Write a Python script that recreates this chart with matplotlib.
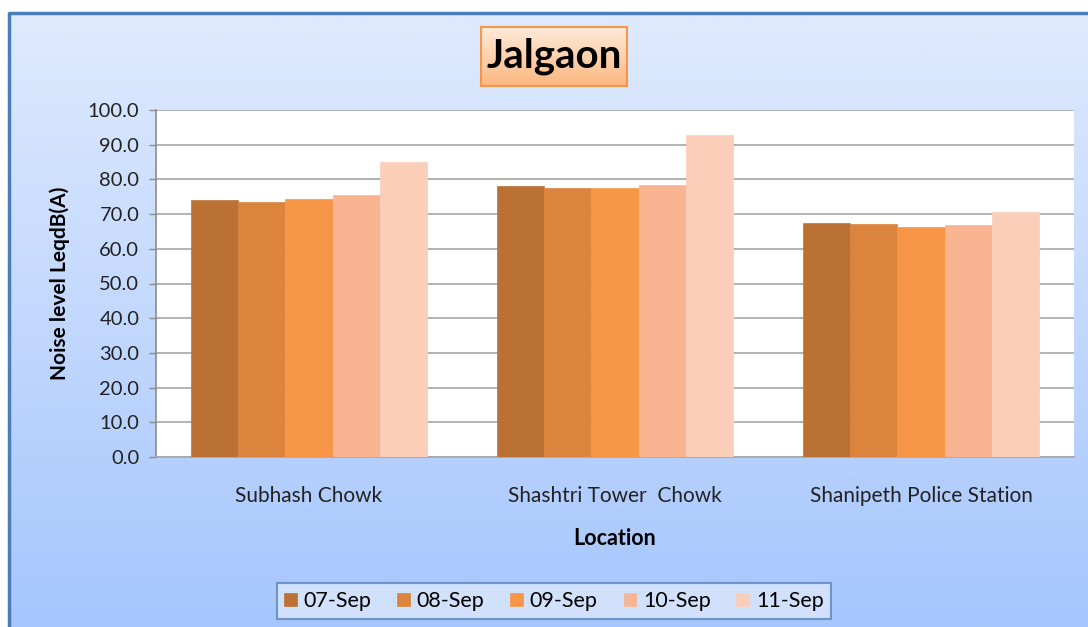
import numpy as np
import matplotlib
matplotlib.use("Agg")
import matplotlib.pyplot as plt
from matplotlib.patches import Rectangle

plt.rcParams['font.family'] = ['Lato', 'DejaVu Sans']

# data
locations = ["Subhash Chowk", "Shashtri Tower  Chowk", "Shanipeth Police Station"]
dates = ["07-Sep", "08-Sep", "09-Sep", "10-Sep", "11-Sep"]
sep07 = [74.0, 78.1, 67.4]
sep08 = [73.6, 77.4, 67.1]
sep09 = [74.3, 77.4, 66.3]
sep10 = [75.5, 78.4, 66.8]
sep11 = [84.9, 92.7, 70.7]
series = [sep07, sep08, sep09, sep10, sep11]
colors = ["#BC7134", "#DB843D", "#F79646", "#F9B591", "#FBCEB9"]

W, H = 1088, 627
fig = plt.figure(figsize=(W / 100, H / 100), dpi=100)

# background gradient + frame
bg = fig.add_axes([0, 0, 1, 1], zorder=-10)
grad = np.linspace(0, 1, 256).reshape(-1, 1)
top_c = np.array([0xE0, 0xEB, 0xFD]) / 255
bot_c = np.array([0xA6, 0xC6, 0xFD]) / 255
img = top_c + (bot_c - top_c) * grad[:, :, None]
img = img.reshape(256, 1, 3)
bg.imshow(img, aspect='auto', extent=[0, W, H, 0])
bg.set_xlim(0, W)
bg.set_ylim(H, 0)
bg.add_patch(Rectangle((0, 0), 8, H, color="white", zorder=2))
bg.add_patch(Rectangle((0, 0), W, 12, color="white", zorder=2))
bg.plot([8.5, 8.5, W + 5], [H + 5, 12.5, 12.5], color="#4A7EBB", lw=2.5, zorder=3)
bg.axis('off')

# main plot area
ax = fig.add_axes([156 / W, 1 - 457 / H, (1074 - 156) / W, (457 - 110) / H])
x = np.arange(len(locations))
bw = 0.1537
for i, (vals, c) in enumerate(zip(series, colors)):
    ax.bar(x + (i - 2) * bw, vals, bw, color=c, label=dates[i], zorder=3,
           edgecolor=c, linewidth=0.5)

ax.set_xlim(-0.5, 2.5)
ax.set_ylim(0, 100)
ax.set_yticks(np.arange(0, 101, 10))
ax.set_yticklabels(["%.1f" % v for v in np.arange(0, 101, 10)], fontsize=14.5, color="#222222")
ax.set_xticks(x)
ax.set_xticklabels(locations, fontsize=15, color="#222222")
ax.tick_params(axis='x', length=0, pad=21)
ax.tick_params(axis='y', length=5, width=1, color="#8c8c8c", direction='out', pad=7)
ax.yaxis.grid(True, color="#A6A6A6", lw=1.2, zorder=0)
ax.set_facecolor("white")
for s in ["top", "right"]:
    ax.spines[s].set_visible(False)
ax.spines["left"].set_color("#8c8c8c")
ax.spines["bottom"].set_color("#A6A6A6")
ax.spines["left"].set_linewidth(1.2)
ax.spines["bottom"].set_linewidth(1.2)

ax.set_ylabel("Noise level LeqdB(A)", fontsize=15, fontweight='bold', labelpad=13)
ax.set_xlabel("Location", fontsize=15.5, fontweight='bold', labelpad=16)

# title box with orange gradient
tb = fig.add_axes([481 / W, 1 - 86 / H, (627 - 481) / W, (86 - 27) / H])
tgrad = np.linspace(0, 1, 64).reshape(-1, 1)
t_top = np.array([0xFF, 0xEA, 0xDA]) / 255
t_bot = np.array([0xFB, 0xB8, 0x80]) / 255
timg = (t_top + (t_bot - t_top) * tgrad[:, :, None]).reshape(64, 1, 3)
tb.imshow(timg, aspect='auto', extent=[0, 1, 0, 1])
tb.set_xticks([])
tb.set_yticks([])
for s in tb.spines.values():
    s.set_color("#F79646")
    s.set_linewidth(1.5)
tb.text(0.5, 0.5, "Jalgaon", fontsize=29, fontweight='bold', ha='center', va='center',
        transform=tb.transAxes)

# legend
leg = fig.legend(loc='center', bbox_to_anchor=(554 / W, 1 - 601 / H), ncol=5,
                 fontsize=15.5, frameon=True, fancybox=False, handlelength=0.6,
                 handleheight=0.6, handletextpad=0.3, columnspacing=1.2,
                 borderpad=0.35)
leg.get_frame().set_facecolor("#DCE7FB")
leg.get_frame().set_edgecolor("#5B86C0")
leg.get_frame().set_linewidth(1.5)

fig.savefig("out.png", dpi=100)
